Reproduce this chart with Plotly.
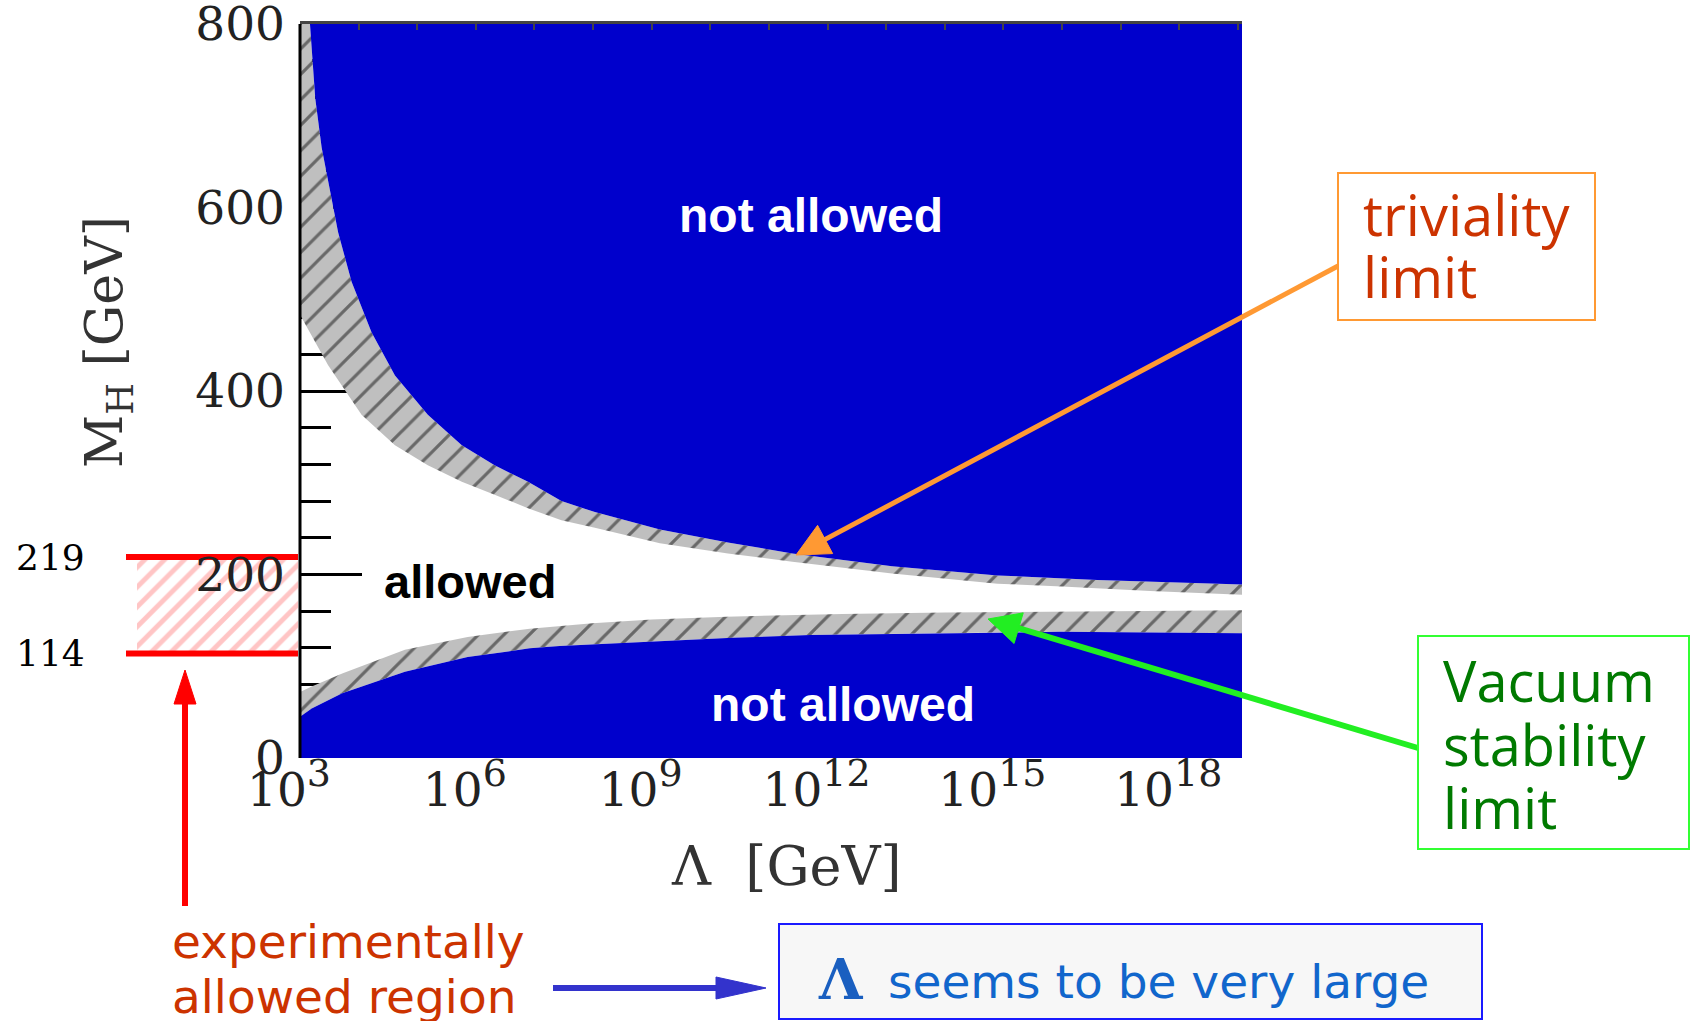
import math
import plotly.graph_objects as go

W, H = 1691, 1021

# ---------------- data (log10 of Lambda in GeV, Higgs mass in GeV) ----------------
triv_hi_exp = [3.17, 3.26, 3.37, 3.48, 3.65, 3.88, 4.22, 4.62, 5.18, 5.76, 6.32, 6.89,
               7.46, 8.03, 9.14, 10.3, 11.4, 13.1, 14.9, 16.6, 19.07]
triv_hi_m = [800, 719, 665, 628, 573, 519, 464, 417, 374, 341, 319, 301,
             280, 268, 249, 235, 223, 209, 199, 194, 189]

triv_lo_exp = [3.0, 3.48, 4.05, 4.62, 5.18, 5.76, 6.32, 6.9, 7.46, 8.03, 9.14, 10.3,
               11.4, 13.1, 14.9, 16.0, 17.5, 19.07]
triv_lo_m = [483, 428, 374, 341, 319, 301, 287, 272, 259, 251, 234, 223,
             214, 201, 190, 187, 182, 178]

vac_hi_exp = [3.0, 3.2, 3.72, 4.79, 5.86, 6.92, 7.99, 9.0, 10.27, 12.25, 14.0, 16.0, 19.07]
vac_hi_m = [72, 78, 92, 118, 132, 141, 147, 151, 154, 157, 158.5, 159.5, 161]

vac_lo_exp = [3.0, 3.2, 3.72, 4.79, 5.86, 6.92, 7.43, 8.2, 9.14, 10.38, 11.7, 13.3, 15.96, 19.07]
vac_lo_m = [45, 54, 70.5, 94, 110, 119.5, 122, 124.5, 127, 131, 134, 135.5, 137.5, 136]

exp_bounds = [114, 219]           # experimentally allowed M_H window
y_tick_vals = [0, 200, 400, 600, 800]
x_tick_exps = [3, 6, 9, 12, 15, 18]
X_EXP_RANGE = [3.0, 19.07]
M_RANGE = [0, 800]

# ---------------- geometry helpers (pixel -> paper) ----------------
def px(X):
    return X / W


def py(Y):
    return 1 - Y / H


PLOT_L, PLOT_R, PLOT_T, PLOT_B = 300, 1242, 24, 758
xdom = [px(PLOT_L), px(PLOT_R)]
ydom = [py(PLOT_B), py(PLOT_T)]


def lam(exps):
    return [10 ** e for e in exps]


BLUE = "#0000cc"
GRAY = "#bfbfbf"
hatch = dict(shape="/", size=18, solidity=0.18, fgcolor="#111111", bgcolor=GRAY)

fig = go.Figure()

# experimentally allowed window (aux subplot x/y, left of the main axes; drawn first)
fig.add_trace(go.Scatter(
    x=[0.064, 1, 1, 0.064, 0.064],
    y=[exp_bounds[0], exp_bounds[0], exp_bounds[1], exp_bounds[1], exp_bounds[0]],
    fill="toself", fillcolor="rgba(0,0,0,0)",
    fillpattern=dict(shape="/", size=14, solidity=0.35, fgcolor="#ff8c8c",
                     bgcolor="rgba(0,0,0,0)"),
    mode="lines", line=dict(width=0), xaxis="x", yaxis="y", hoverinfo="skip"))
for b in exp_bounds:
    fig.add_trace(go.Scatter(x=[0, 1], y=[b, b], mode="lines",
                             line=dict(color="#ff0000", width=6),
                             xaxis="x", yaxis="y", hoverinfo="skip"))

MX, MY = "x2", "y2"   # main chart axes

# upper gray (triviality) band
fig.add_trace(go.Scatter(
    x=lam(triv_lo_exp + triv_hi_exp[::-1] + [X_EXP_RANGE[0]]),
    y=triv_lo_m + triv_hi_m[::-1] + [M_RANGE[1]],
    fill="toself", fillcolor=GRAY, fillpattern=hatch, xaxis=MX, yaxis=MY,
    mode="lines", line=dict(width=0), hoverinfo="skip"))

# upper blue region
fig.add_trace(go.Scatter(
    x=lam(triv_hi_exp + [X_EXP_RANGE[1]]),
    y=triv_hi_m + [M_RANGE[1]], xaxis=MX, yaxis=MY,
    fill="toself", fillcolor=BLUE, mode="lines", line=dict(width=0), hoverinfo="skip"))

# lower gray (vacuum stability) band
fig.add_trace(go.Scatter(
    x=lam(vac_hi_exp + vac_lo_exp[::-1]),
    y=vac_hi_m + vac_lo_m[::-1], xaxis=MX, yaxis=MY,
    fill="toself", fillcolor=GRAY, fillpattern=hatch,
    mode="lines", line=dict(width=0), hoverinfo="skip"))

# lower blue region
fig.add_trace(go.Scatter(
    x=lam(vac_lo_exp + [X_EXP_RANGE[1], X_EXP_RANGE[0]]),
    y=vac_lo_m + [M_RANGE[0], M_RANGE[0]], xaxis=MX, yaxis=MY,
    fill="toself", fillcolor=BLUE, mode="lines", line=dict(width=0), hoverinfo="skip"))

# invisible trace for top axis
fig.add_trace(go.Scatter(x=[10 ** X_EXP_RANGE[0]], y=[M_RANGE[0]], xaxis="x3", yaxis=MY,
                         mode="markers", marker=dict(opacity=0), hoverinfo="skip"))

SERIF = "DejaVu Serif"

fig.update_layout(
    width=W, height=H,
    margin=dict(l=0, r=0, t=0, b=0, pad=0),
    paper_bgcolor="white", plot_bgcolor="white",
    showlegend=False,
    xaxis=dict(domain=[px(126), px(298)], range=[0, 1], visible=False, anchor="y",
               automargin=False),
    yaxis=dict(domain=ydom, range=M_RANGE, visible=False, anchor="x", automargin=False),
    xaxis2=dict(type="log", range=X_EXP_RANGE, domain=xdom, anchor="y2", automargin=False,
                tickvals=lam(x_tick_exps),
                ticktext=[f'10<sup><span style="font-size:38px">{e}</span></sup>'
                          for e in x_tick_exps],
                ticks="", showline=False, showgrid=False, zeroline=False,
                layer="below traces", ticklabelshift=-11, ticklabelstandoff=0,
                ticklabeloverflow="allow",
                tickfont=dict(family=SERIF, size=47, color="#222222")),
    xaxis3=dict(type="log", range=X_EXP_RANGE, overlaying="x2", side="top", anchor="y2",
                automargin=False,
                dtick=1, ticks="inside", ticklen=6, tickwidth=2, tickcolor="#444444",
                showticklabels=False, showline=True, linecolor="#444444", linewidth=3,
                showgrid=False, zeroline=False, layer="above traces"),
    yaxis2=dict(range=M_RANGE, domain=ydom, anchor="x2", automargin=False,
                tickvals=y_tick_vals, ticks="inside", ticklen=62, tickwidth=2.5,
                tickcolor="black",
                minor=dict(ticks="inside", ticklen=31, tickwidth=2.5, tickcolor="black",
                           dtick=40, tick0=0, showgrid=False),
                showline=False, showgrid=False, zeroline=False, layer="below traces",
                ticklabelstandoff=14, ticklabeloverflow="allow",
                tickfont=dict(family=SERIF, size=47, color="#222222")),
)

shapes = []
# left frame line
shapes.append(dict(type="line", xref="paper", yref="paper", x0=px(PLOT_L), x1=px(PLOT_L),
                   y0=py(PLOT_B), y1=py(PLOT_T), line=dict(color="black", width=3),
                   layer="above"))


def arrow(x0, y0, x1, y1, color, width, head_len, head_half):
    dx, dy = x1 - x0, y1 - y0
    L = math.hypot(dx, dy)
    ux, uy = dx / L, dy / L
    bx, by = x1 - head_len * ux, y1 - head_len * uy
    nx, ny = -uy, ux
    c1 = (bx + head_half * nx, by + head_half * ny)
    c2 = (bx - head_half * nx, by - head_half * ny)
    out = [dict(type="line", xref="paper", yref="paper", x0=px(x0), y0=py(y0),
                x1=px(bx + 2 * ux), y1=py(by + 2 * uy),
                line=dict(color=color, width=width), layer="above"),
           dict(type="path", xref="paper", yref="paper",
                path=f"M {px(x1)} {py(y1)} L {px(c1[0])} {py(c1[1])} "
                     f"L {px(c2[0])} {py(c2[1])} Z",
                fillcolor=color, line=dict(color=color, width=1), layer="above")]
    return out


def box(x0, y0, x1, y1, line_color, fill="white", lw=2):
    return dict(type="rect", xref="paper", yref="paper", x0=px(x0), x1=px(x1),
                y0=py(y1), y1=py(y0), fillcolor=fill,
                line=dict(color=line_color, width=lw), layer="above")


shapes += arrow(1338, 266, 796, 555, "#ff9933", 5, 33, 16)
shapes += arrow(1418, 748, 988, 619, "#22ee22", 6, 32, 16)
shapes += arrow(185, 906, 185, 670, "#ff0000", 6, 34, 11)
shapes += arrow(553, 988, 766, 988, "#3333cc", 6, 50, 11)
shapes.append(box(1338, 173, 1595, 320, "#ff9933"))
shapes.append(box(1418, 636, 1689, 849, "#33ff33"))
shapes.append(box(779, 924, 1482, 1019, "#1a1aff", fill="#f7f7f7"))
fig.update_layout(shapes=shapes)

ann = []


def text(X, Y, s, size, color, family, xanchor="center", bold=False, angle=0,
         yref="paper", yv=None):
    ann.append(dict(x=px(X), y=py(Y) if yv is None else yv,
                    xref="paper", yref=yref, text=f"<b>{s}</b>" if bold else s,
                    showarrow=False, xanchor=xanchor, yanchor="middle", textangle=angle,
                    font=dict(size=size, color=color, family=family)))


SANS = "Liberation Sans, Arial"
text(811, 216, "not allowed", 48, "white", SANS, bold=True)
text(843, 704, "not allowed", 48, "white", SANS, bold=True)
text(470, 581, "allowed", 47, "black", SANS, bold=True)

# axis titles
text(786, 866, "Λ\u00a0\u00a0[GeV]", 54, "#333333", SERIF)
text(108, 342, "M<sub>H</sub> [GeV]", 52, "#333333", SERIF, angle=-90)

# experimental window labels
for b in exp_bounds:
    text(50, 0, str(b), 36, "black", SERIF, yref="y", yv=b)

COMIC = "Open Sans"
text(1361, 214, "triviality", 56, "#cc3300", COMIC, xanchor="left")
text(1361, 276, "limit", 56, "#cc3300", COMIC, xanchor="left")
text(1441, 680, "Vacuum", 56, "#007a00", COMIC, xanchor="left")
text(1441, 744, "stability", 56, "#007a00", COMIC, xanchor="left")
text(1441, 807, "limit", 56, "#007a00", COMIC, xanchor="left")

text(170, 941, "experimentally", 47, "#cc3300", "DejaVu Sans", xanchor="left")
text(170, 996, "allowed region", 47, "#cc3300", "DejaVu Sans", xanchor="left")

text(841, 979, "Λ", 56, "#1a5fc0", SERIF, bold=True)
text(886, 981, "seems to be very large", 47, "#1166cc", "DejaVu Sans", xanchor="left")

fig.update_layout(annotations=ann)

fig.write_html("out.html")
